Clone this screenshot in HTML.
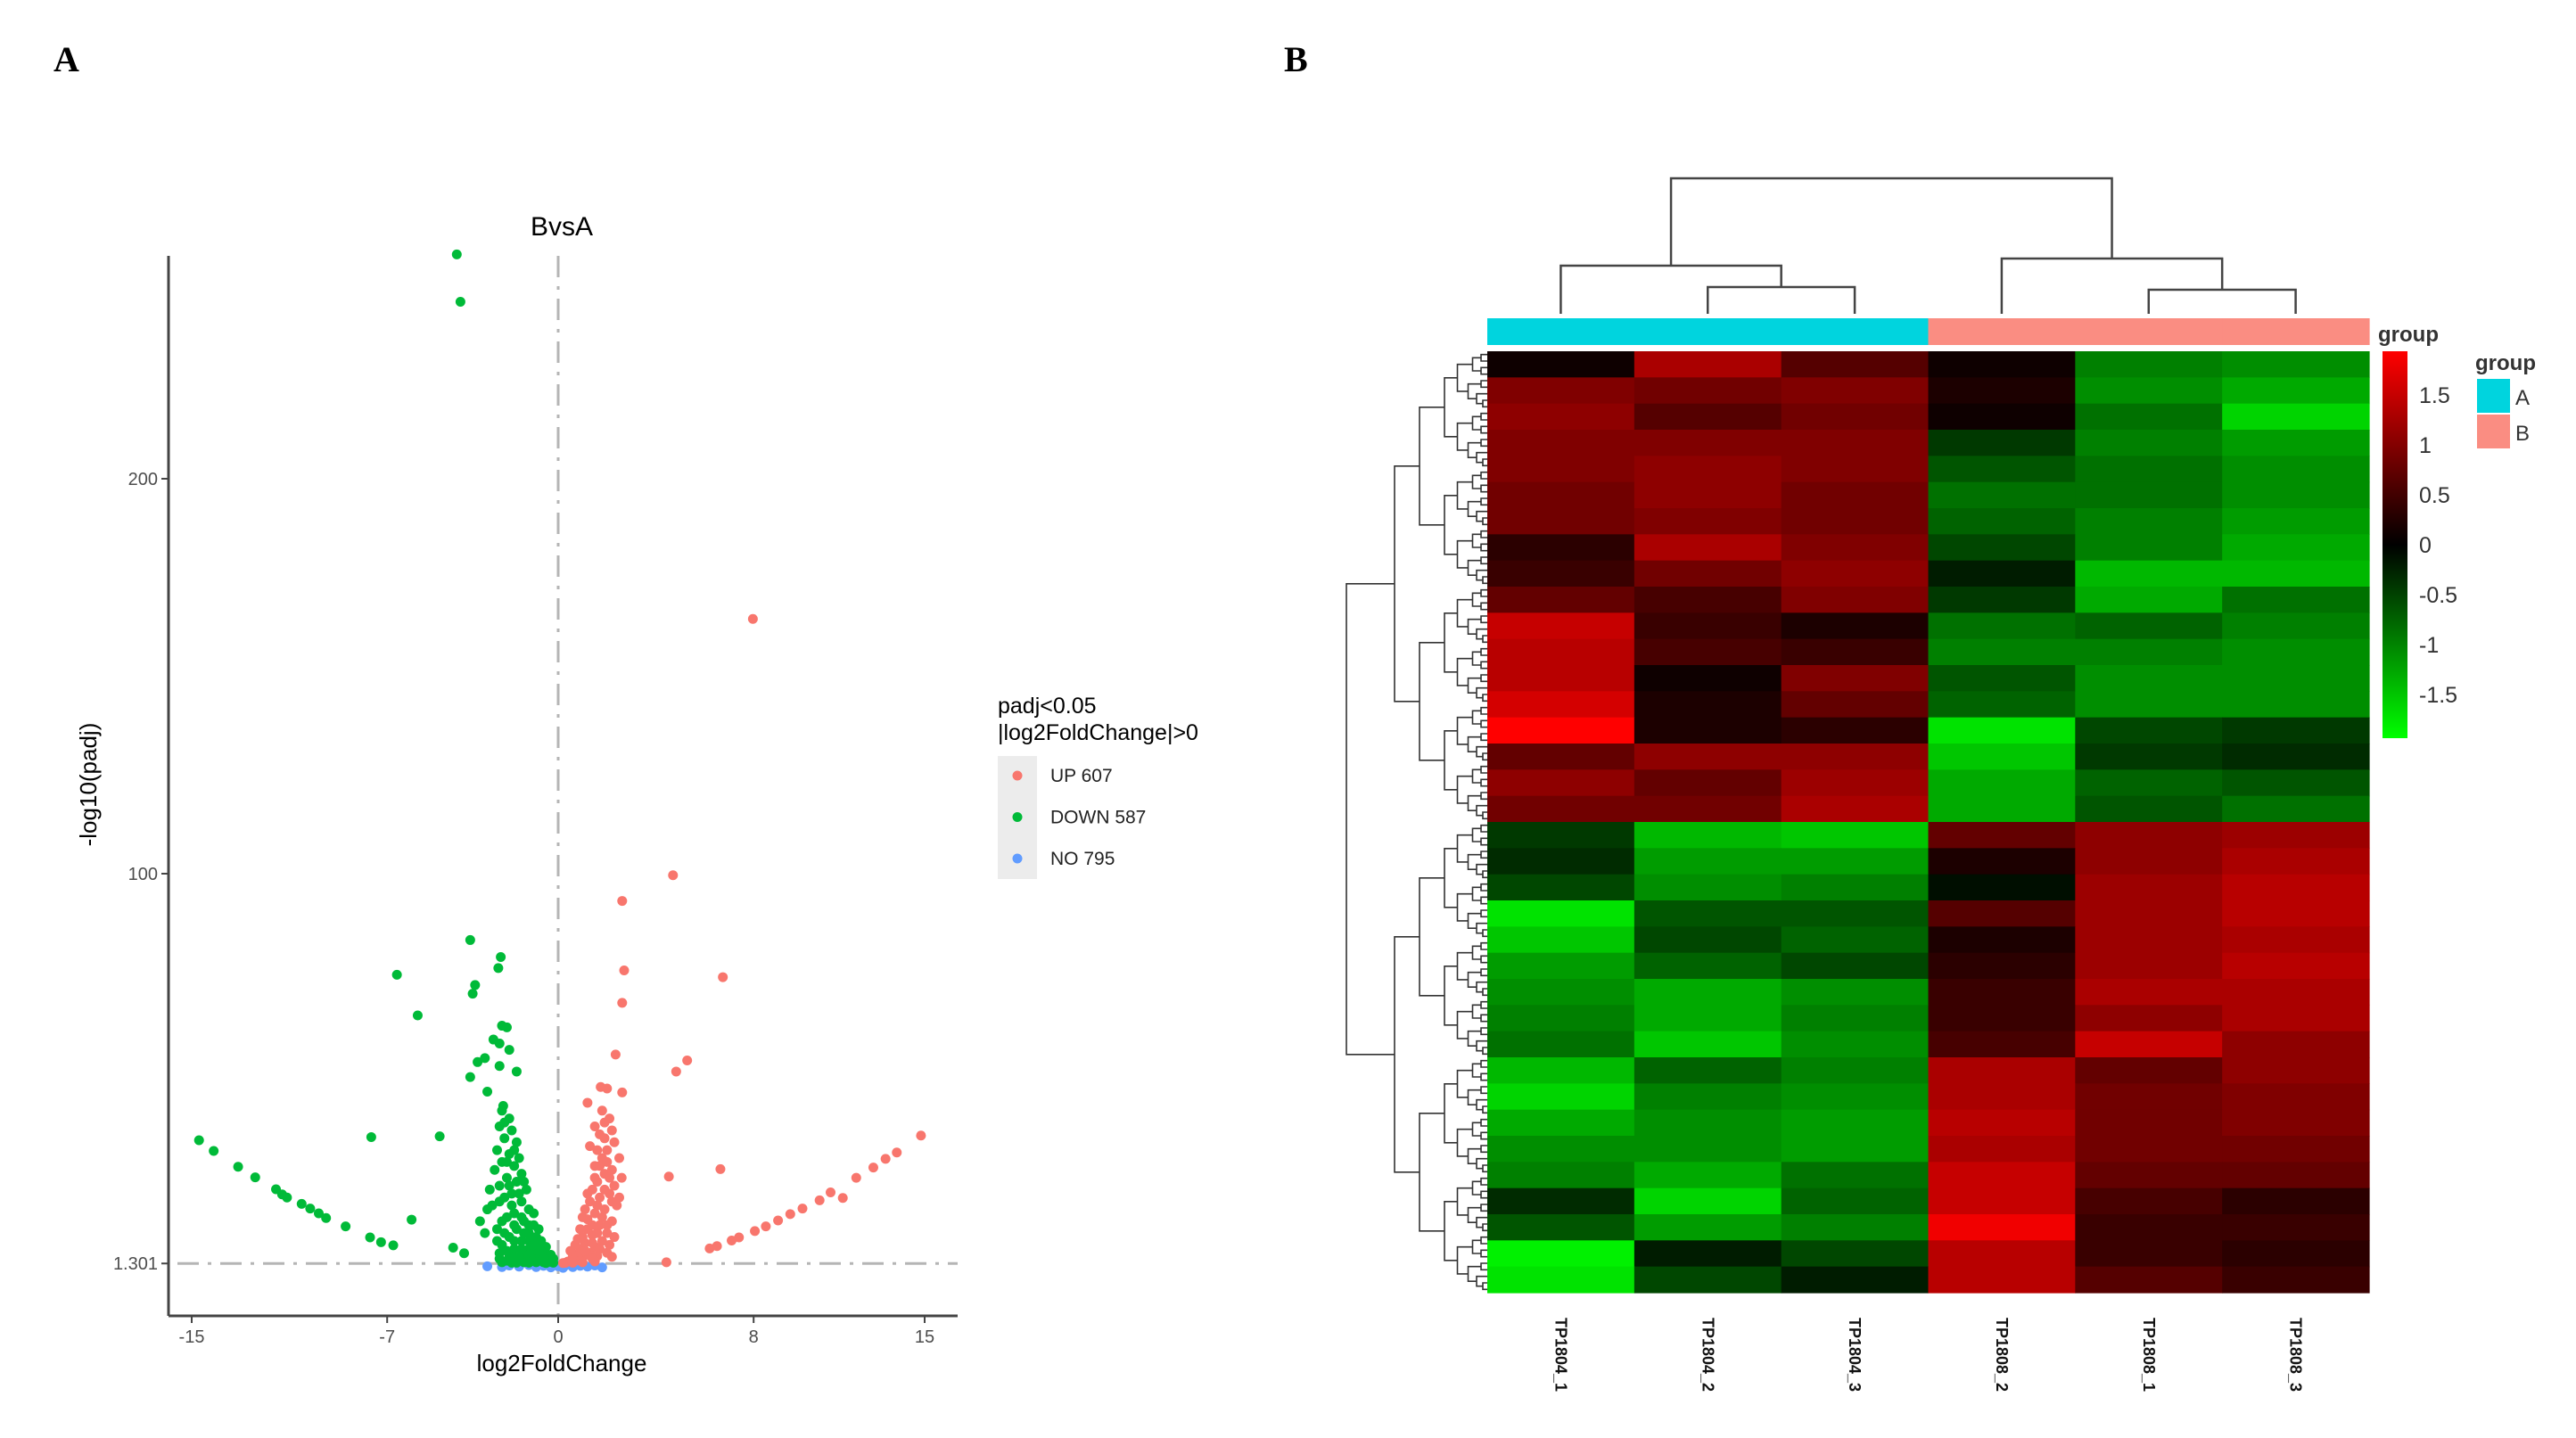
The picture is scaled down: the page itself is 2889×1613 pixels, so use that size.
<!DOCTYPE html>
<html><head><meta charset="utf-8"><style>
html,body{margin:0;padding:0;background:#fff;}
svg{display:block;font-family:"Liberation Sans",sans-serif;}
</style></head><body>
<svg id="fig" width="2889" height="1613" viewBox="0 0 2889 1613" xmlns="http://www.w3.org/2000/svg">
<text x="60" y="80" font-family="Liberation Serif" font-weight="bold" font-size="40">A</text>
<text x="1440" y="80" font-family="Liberation Serif" font-weight="bold" font-size="40">B</text>
<g id="volcano"></g>
<g id="heat"></g>
</svg>
<script>
const NS="http://www.w3.org/2000/svg";
function mk(parent,tag,attrs,text){const e=document.createElementNS(NS,tag);for(const k in attrs)e.setAttribute(k,attrs[k]);if(text!==undefined)e.textContent=text;parent.appendChild(e);return e;}

// ---------- Volcano data ----------
const xTicks=[-15,-7,0,8,15];
const yTicks=[1.301,100,200];
const yTickLabels=["1.301","100","200"];
const legendLabels=["UP 607","DOWN 587","NO 795"];
const downPoints=[[-4.15,256.8],[-4.0,244.8],[-3.6,83.2],[-2.35,78.9],[-2.45,76.1],[-6.6,74.4],[-3.4,71.8],[-3.5,69.6],[-5.75,64.1],[-2.3,61.5],[-2.1,61.1],[-2.65,58],[-2.4,57],[-2.0,55.4],[-3.0,53.3],[-3.3,52.3],[-2.4,51.3],[-1.7,49.9],[-3.6,48.5],[-2.9,44.8],[-2.25,41.2],[-7.65,33.3],[-4.85,33.5],[-14.7,32.5],[-14.1,29.8],[-13.1,25.8],[-12.4,23.1],[-11.55,20.1],[-11.3,18.8],[-11.1,18],[-10.5,16.4],[-10.15,15.2],[-9.8,14],[-9.5,12.8],[-8.7,10.7],[-7.7,7.9],[-7.25,6.7],[-6.75,5.9],[-6.0,12.4],[-4.3,5.3],[-3.85,3.9],[-2.4,3.9],
[-2.3,40],[-2.0,38],[-2.4,36],[-1.9,35],[-2.2,33],[-1.7,32],[-2.5,30],[-2.0,29],[-1.6,28],[-2.3,27],[-1.8,26],[-2.6,25],[-1.5,24],[-2.1,23],[-1.7,22],[-2.4,21],[-1.3,20],[-1.9,19],[-2.2,18],[-1.5,17],[-2.7,16],[-1.2,15],[-1.8,14],[-2.1,13],[-1.4,12],[-1.0,11],[-2.5,10],[-1.7,10],[-1.2,9],[-2.0,8],[-0.9,8],[-1.5,7],[-2.3,6],[-0.8,6],[-1.2,5],[-1.8,5],[-0.6,4],[-1.0,4],[-1.5,3.5],[-2.0,3.2],[-0.5,3],[-0.9,2.8],[-1.3,2.5],[-0.4,2.2],[-0.7,2],[-1.1,1.9],[-0.3,1.7],[-0.6,1.6],[-1.4,1.6],[-0.2,1.5],[-1.7,1.5],[-3.0,9],[-2.9,15],[-2.8,20],[-3.2,12],
[-2.2,37],[-1.8,30],[-2.1,27],[-1.4,22],[-2.0,21],[-1.6,19],[-2.4,17],[-1.9,16],[-1.0,14],[-1.5,13],[-2.3,12],[-1.2,11],[-1.8,11],[-0.8,10],[-2.2,9],[-1.4,9],[-0.7,7],[-1.2,7],[-1.8,7],[-2.5,7],[-0.5,5.5],[-1.0,6],[-1.5,5],[-2.1,4.5],[-0.3,3.5],[-0.8,4],[-1.2,3.5],[-1.8,3],[-2.4,2.5],[-0.2,2.5],[-0.6,2.5],[-1.0,2.3],[-1.6,2.2],[-2.1,2],[-0.9,1.6],[-1.2,1.5],[-1.9,1.5],[-2.3,1.6],[-0.5,1.4],[-1.6,2.8]];
const upPoints=[[7.97,164.5],[4.7,99.6],[2.62,93.1],[6.74,73.8],[2.7,75.5],[2.62,67.3],[2.35,54.2],[5.28,52.7],[4.83,49.9],[1.74,46],[2.0,45.6],[2.62,44.6],[6.64,25.2],[4.53,23.3],[4.43,1.6],[14.85,33.7],[13.86,29.4],[13.4,27.8],[12.9,25.6],[12.2,23.0],[11.65,17.9],[11.15,19.3],[10.7,17.3],[10.0,15.2],[9.5,13.8],[9.0,12.2],[8.5,10.7],[8.05,9.5],[7.4,7.9],[7.1,7.1],[6.5,5.7],[6.2,5.1],
[0.3,1.5],[0.5,2],[0.8,2.5],[0.4,1.8],[1.0,3],[0.7,3.5],[1.3,4],[0.9,5],[1.5,5.5],[1.1,6.5],[1.8,7],[0.8,7.5],[1.4,8.5],[2.0,9],[1.2,10],[1.7,11],[2.2,12],[1.0,13],[1.5,14],[1.9,15],[2.4,16],[1.3,17],[1.7,18],[2.1,19],[1.4,20],[2.3,21],[1.6,22],[1.9,24],[2.2,25],[1.5,26],[1.8,28],[2.0,30],[1.3,31],[2.3,32],[1.7,34],[1.5,36],[2.1,38],[1.8,40],[1.2,42],[2.5,28],[2.6,23],[2.5,18],[2.2,3],[2.0,4],
[0.6,3],[1.2,3.5],[1.6,3.2],[0.5,4.5],[1.1,4.5],[1.7,5],[0.7,6],[1.4,6.5],[2.1,6],[1.0,8],[1.6,9],[2.3,8],[0.9,10],[1.4,11],[2.0,11],[1.2,12.5],[1.8,13],[1.1,15],[1.6,16],[2.2,17],[1.2,19],[1.9,20],[1.5,23],[2.1,23],[1.7,26],[2.0,27],[1.6,30],[1.9,33],[2.2,35],[1.9,37],[0.9,2],[1.4,2.5],[0.2,1.4],[0.6,1.5],[1.0,1.6],[1.5,1.8]];
const noPoints=[[-2.9,0.6],[-2.3,0.4],[-2.0,0.8],[-1.6,0.5],[-1.2,0.9],[-0.9,0.4],[-0.6,0.7],[-0.3,0.3],[0,0.6],[0.3,0.8],[0.6,0.4],[0.9,0.7],[1.2,0.5],[1.5,0.8],[1.8,0.3],[-0.8,1.0],[-0.1,1.0],[0.5,1.1],[-0.4,0.9],[0.2,0.2]];

// ---------- Heatmap data ----------
const sampleLabels=["TP1804_1","TP1804_2","TP1804_3","TP1808_2","TP1808_1","TP1808_3"];
const sampleGroups=["A","A","A","B","B","B"];
const colorTicks=[1.5,1,0.5,0,-0.5,-1,-1.5];
const heatRows=[
[0.1,1.2,0.6,0.1,-0.9,-1.0],[0.9,0.8,0.9,0.2,-1.0,-1.2],[1.0,0.6,0.8,0.1,-0.8,-1.5],[0.9,0.9,0.9,-0.4,-0.9,-1.1],
[0.9,1.0,0.9,-0.6,-0.8,-1.0],[0.8,1.0,0.8,-0.8,-0.8,-1.0],[0.8,0.9,0.8,-0.7,-0.9,-1.1],[0.3,1.2,0.9,-0.5,-0.9,-1.2],
[0.4,0.8,1.0,-0.2,-1.3,-1.3],[0.7,0.5,0.9,-0.4,-1.2,-0.8],[1.4,0.4,0.2,-0.8,-0.7,-0.9],[1.3,0.5,0.4,-0.9,-0.9,-1.0],
[1.3,0.1,0.9,-0.6,-1.0,-1.0],[1.5,0.2,0.7,-0.7,-1.0,-1.0],[1.8,0.2,0.3,-1.6,-0.5,-0.4],[0.7,1.0,1.0,-1.4,-0.4,-0.3],
[1.0,0.7,1.1,-1.2,-0.7,-0.6],[0.8,0.8,1.2,-1.2,-0.6,-0.8],
[-0.4,-1.3,-1.4,0.7,1.0,1.1],[-0.3,-1.1,-1.1,0.2,1.0,1.2],[-0.5,-1.0,-0.9,-0.1,1.1,1.3],[-1.6,-0.6,-0.6,0.6,1.1,1.3],
[-1.4,-0.5,-0.7,0.2,1.1,1.2],[-1.1,-0.7,-0.5,0.3,1.1,1.3],[-1.0,-1.2,-1.0,0.4,1.2,1.2],[-0.9,-1.2,-0.9,0.4,1.0,1.2],
[-0.8,-1.4,-1.0,0.5,1.4,1.0],[-1.3,-0.7,-0.9,1.2,0.7,1.0],[-1.5,-0.9,-1.0,1.2,0.8,0.9],[-1.2,-1.0,-1.1,1.3,0.8,0.9],
[-1.0,-1.0,-1.1,1.2,0.8,0.8],[-0.9,-1.2,-0.8,1.4,0.7,0.7],[-0.3,-1.5,-0.7,1.4,0.5,0.3],[-0.6,-1.1,-0.9,1.7,0.4,0.4],
[-1.7,-0.2,-0.5,1.3,0.4,0.3],[-1.6,-0.5,-0.2,1.3,0.6,0.4]];

// ---------- Volcano drawing ----------
const V=document.getElementById('volcano');
const X0=189,X1=1074,Y0=287,Y1=1476;
const xs=v=>626+v*27.4;
const ys=v=>980-(v-100)*4.43;
mk(V,'text',{x:630,y:264,'font-size':30,'text-anchor':'middle',},'BvsA');
const dash="24 10 4 10";
mk(V,'line',{x1:xs(0),y1:Y0,x2:xs(0),y2:Y1,stroke:'#b5b5b5','stroke-width':3,'stroke-dasharray':dash,});
mk(V,'line',{x1:X0+10,y1:ys(1.301),x2:X1,y2:ys(1.301),stroke:'#b5b5b5','stroke-width':3,'stroke-dasharray':dash,});
function pts(arr,col,name){const g=mk(V,'g',{});
 arr.forEach(p=>{const c=mk(g,'circle',{cx:xs(p[0]),cy:ys(p[1]),r:5.5,fill:col});
 
 });}
pts(noPoints,'#619CFF','no-points');
pts(downPoints,'#00BA38','down-points');
pts(upPoints,'#F8766D','up-points');
mk(V,'line',{x1:X0,y1:Y0,x2:X0,y2:Y1,stroke:'#444','stroke-width':3,});
mk(V,'line',{x1:X0,y1:Y1,x2:X1,y2:Y1,stroke:'#444','stroke-width':3,});
xTicks.forEach(t=>{mk(V,'line',{x1:xs(t),y1:Y1,x2:xs(t),y2:Y1+8,stroke:'#444','stroke-width':2});
 const tx=mk(V,'text',{x:xs(t),y:Y1+30,'font-size':20,fill:'#4d4d4d','text-anchor':'middle'},String(t));
 
 });
yTicks.forEach((t,i)=>{mk(V,'line',{x1:X0-8,y1:ys(t),x2:X0,y2:ys(t),stroke:'#444','stroke-width':2});
 const tx=mk(V,'text',{x:X0-12,y:ys(t)+7,'font-size':20,fill:'#4d4d4d','text-anchor':'end'},yTickLabels[i]);
 
 });
mk(V,'text',{x:630,y:1538,'font-size':26,'text-anchor':'middle',},'log2FoldChange');
mk(V,'text',{x:0,y:0,'font-size':26,'text-anchor':'middle',transform:'translate(108,880) rotate(-90)',},'-log10(padj)');
mk(V,'text',{x:1119,y:800,'font-size':25,},'padj<0.05');
mk(V,'text',{x:1119,y:830,'font-size':25,},'|log2FoldChange|>0');
mk(V,'rect',{x:1119,y:848,width:44,height:138,fill:'#ececec',});
const legCols=['#F8766D','#00BA38','#619CFF'];
legendLabels.forEach((l,i)=>{const y=870+i*46.5;
 const c=mk(V,'circle',{cx:1141,cy:y,r:5.5,fill:legCols[i]});
 
 
 const t=mk(V,'text',{x:1178,y:y+7,'font-size':21,fill:'#222'},l);
 
 });

// ---------- Heatmap drawing ----------
const H=document.getElementById('heat');
const HX0=1668,HX1=2657,HY0=394,HY1=1450;
const nC=sampleLabels.length,nR=heatRows.length;
const cw=(HX1-HX0)/nC,rh=(HY1-HY0)/nR;
function col(v){const a=Math.min(1,Math.abs(v)/1.8);const c=Math.round(a*255);return v>=0?`rgb(${c},0,0)`:`rgb(0,${c},0)`;}
heatRows.forEach((row,r)=>row.forEach((v,c)=>{
 const e=mk(H,'rect',{x:HX0+c*cw,y:HY0+r*rh,width:cw+0.6,height:rh+0.6,fill:col(v)});
 
 }));
sampleGroups.forEach((g,c)=>{const e=mk(H,'rect',{x:HX0+c*cw,y:357,width:cw+0.6,height:30,fill:g==='A'?'#00D4DE':'#FA8D82'});
 
 });
mk(H,'text',{x:2667,y:383,'font-size':24,'font-weight':'bold',fill:'#333',},'group');
const cx=i=>HX0+(i+0.5)*cw;
const cd=mk(H,'g',{fill:'none',stroke:'#444','stroke-width':2.5,});
function u(x1,x2,yTop,y1b,y2b){mk(cd,'path',{d:`M${x1},${y1b}V${yTop}H${x2}V${y2b}`});}
u(cx(1),cx(2),322,352,352);
const nA=(cx(1)+cx(2))/2;
u(cx(0),nA,298,352,322);
const nL=(cx(0)+nA)/2;
u(cx(4),cx(5),325,352,352);
const nB=(cx(4)+cx(5))/2;
u(cx(3),nB,290,352,325);
const nR2=(cx(3)+nB)/2;
u(nL,nR2,200,298,290);
const rd=mk(H,'g',{fill:'none',stroke:'#333','stroke-width':1.6,});
const leafY=[];for(let i=0;i<nR*4;i++)leafY.push(HY0+(i+0.5)*rh/4);
function tree(a,b,depth){
 if(b-a===1)return [HX0,leafY[a]];
 const m=Math.floor((a+b)/2);
 const L=tree(a,m,depth+1),R=tree(m,b,depth+1);
 const x=depth===0?1510:Math.min(L[0],R[0])-(depth<3?28:Math.max(5,22-depth*2.5));
 mk(rd,'path',{d:`M${L[0]},${L[1]}H${x}V${R[1]}H${R[0]}`});
 return [x,(L[1]+R[1])/2];}
const splitLeaf=18*4;
const tA=tree(0,splitLeaf,1),tB=tree(splitLeaf,nR*4,1);
mk(rd,'path',{d:`M${tA[0]},${tA[1]}H1510V${tB[1]}H${tB[0]}`});
sampleLabels.forEach((s,c)=>{const t=mk(H,'text',{x:0,y:0,'font-size':18,'font-weight':'bold',fill:'#111',transform:`translate(${cx(c)-6},1478) rotate(90)`},s);
 
 });
const defs=mk(H,'defs',{});
const gr=mk(defs,'linearGradient',{id:'cb',x1:0,y1:1,x2:0,y2:0});
mk(gr,'stop',{offset:'0','stop-color':'#00ff00'});
mk(gr,'stop',{offset:'0.5','stop-color':'#000'});
mk(gr,'stop',{offset:'1','stop-color':'#ff0000'});
const CB0=394,CB1=828;
mk(H,'rect',{x:2672,y:CB0,width:28,height:CB1-CB0,fill:'url(#cb)',});
const cbY=v=>611-v*112;
colorTicks.forEach(v=>{const t=mk(H,'text',{x:2713,y:cbY(v)+9,'font-size':25,fill:'#333'},String(v));
 
 });
mk(H,'text',{x:2776,y:415,'font-size':24,'font-weight':'bold',fill:'#333',},'group');
mk(H,'rect',{x:2778,y:425,width:37,height:38,fill:'#00D4DE',});
mk(H,'rect',{x:2778,y:465,width:37,height:38,fill:'#FA8D82',});
mk(H,'text',{x:2821,y:454,'font-size':24,fill:'#333',},'A');
mk(H,'text',{x:2821,y:494,'font-size':24,fill:'#333',},'B');
</script>
</body></html>
